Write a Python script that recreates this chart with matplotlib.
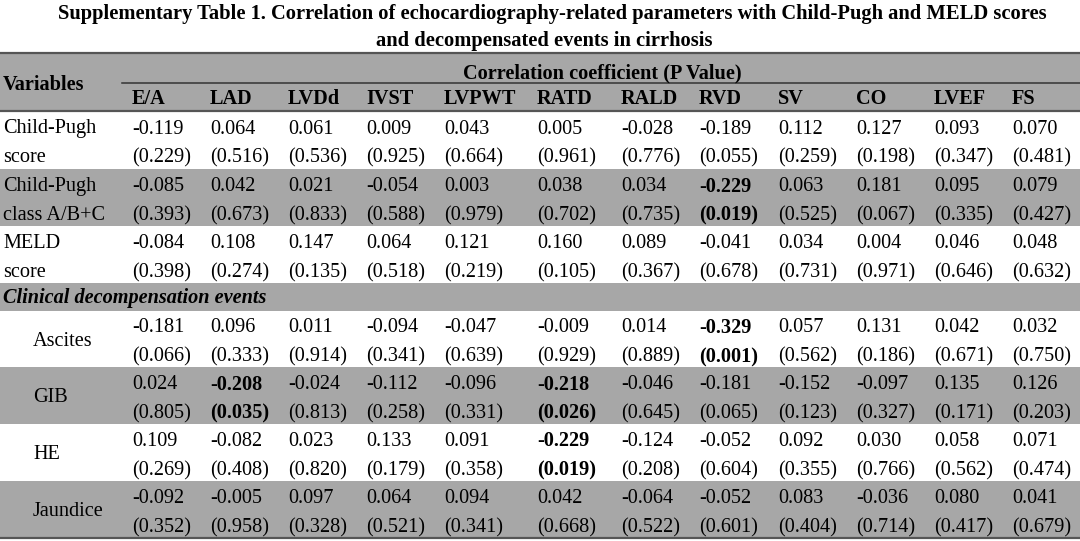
import matplotlib.pyplot as plt
from matplotlib.patches import Rectangle

plt.rcParams["font.family"] = ["Liberation Serif", "DejaVu Serif"]

title_lines = [
    "Supplementary Table 1. Correlation of echocardiography-related parameters with Child-Pugh and MELD scores",
    "and decompensated events in cirrhosis",
]
columns = ["E/A", "LAD", "LVDd", "IVST", "LVPWT", "RATD", "RALD", "RVD", "SV", "CO", "LVEF", "FS"]

row_labels = [
    ["Child-Pugh", "score"],
    ["Child-Pugh", "class A/B+C"],
    ["MELD", "score"],
    ["Ascites"],
    ["GIB"],
    ["HE"],
    ["Jaundice"],
]
r_values = [
    [-0.119, 0.064, 0.061, 0.009, 0.043, 0.005, -0.028, -0.189, 0.112, 0.127, 0.093, 0.070],
    [-0.085, 0.042, 0.021, -0.054, 0.003, 0.038, 0.034, -0.229, 0.063, 0.181, 0.095, 0.079],
    [-0.084, 0.108, 0.147, 0.064, 0.121, 0.160, 0.089, -0.041, 0.034, 0.004, 0.046, 0.048],
    [-0.181, 0.096, 0.011, -0.094, -0.047, -0.009, 0.014, -0.329, 0.057, 0.131, 0.042, 0.032],
    [0.024, -0.208, -0.024, -0.112, -0.096, -0.218, -0.046, -0.181, -0.152, -0.097, 0.135, 0.126],
    [0.109, -0.082, 0.023, 0.133, 0.091, -0.229, -0.124, -0.052, 0.092, 0.030, 0.058, 0.071],
    [-0.092, -0.005, 0.097, 0.064, 0.094, 0.042, -0.064, -0.052, 0.083, -0.036, 0.080, 0.041],
]
p_values = [
    [0.229, 0.516, 0.536, 0.925, 0.664, 0.961, 0.776, 0.055, 0.259, 0.198, 0.347, 0.481],
    [0.393, 0.673, 0.833, 0.588, 0.979, 0.702, 0.735, 0.019, 0.525, 0.067, 0.335, 0.427],
    [0.398, 0.274, 0.135, 0.518, 0.219, 0.105, 0.367, 0.678, 0.731, 0.971, 0.646, 0.632],
    [0.066, 0.333, 0.914, 0.341, 0.639, 0.929, 0.889, 0.001, 0.562, 0.186, 0.671, 0.750],
    [0.805, 0.035, 0.813, 0.258, 0.331, 0.026, 0.645, 0.065, 0.123, 0.327, 0.171, 0.203],
    [0.269, 0.408, 0.820, 0.179, 0.358, 0.019, 0.208, 0.604, 0.355, 0.766, 0.562, 0.474],
    [0.352, 0.958, 0.328, 0.521, 0.341, 0.668, 0.522, 0.601, 0.404, 0.714, 0.417, 0.679],
]
section_label = "Clinical decompensation events"

# layout in pixel coordinates
col_x = [132, 210, 288, 366, 444, 537, 621, 699, 778, 856, 934, 1012]
row_edges = [111, 169, 226, 283, 311, 367, 424, 481, 538]
section_index = 3
gray = "#a7a7a7"
line_c = "#555555"
fs = 14.6
dy = 3.5  # nudge for text centring

fig = plt.figure(figsize=(10.8, 5.41), dpi=100)
ax = fig.add_axes([0, 0, 1, 1])
ax.set_xlim(0, 1080)
ax.set_ylim(541, 0)
ax.axis("off")

ax.text(552, 14, title_lines[0], ha="center", va="center", fontsize=14.8, fontweight="bold")
ax.text(544, 41, title_lines[1], ha="center", va="center", fontsize=14.8, fontweight="bold")

# header band
ax.add_patch(Rectangle((0, 53), 1080, row_edges[0] - 53, color=gray, lw=0))
ax.text(3, 85, "Variables", ha="left", va="center", fontsize=fs, fontweight="bold")
ax.text(602, 73, "Correlation coefficient (P Value)", ha="center", va="center",
        fontsize=fs, fontweight="bold")
for x, name in zip(col_x, columns):
    ax.text(x, 99, name, ha="left", va="center", fontsize=fs, fontweight="bold")

# body rows: band list in order (data rows with the section row inserted)
bands = list(range(len(row_labels)))
bands.insert(section_index, "section")
for k, item in enumerate(bands):
    top, bot = row_edges[k], row_edges[k + 1]
    if k % 2 == 1:
        ax.add_patch(Rectangle((0, top), 1080, bot - top, color=gray, lw=0))
    mid = (top + bot) / 2
    if item == "section":
        ax.text(3, mid + 1, section_label, ha="left", va="center", fontsize=fs,
                fontweight="bold", style="italic")
        continue
    i = item
    lab = row_labels[i]
    y1, y2 = mid - 14.5 + dy, mid + 14.5 + dy
    if len(lab) == 2:
        ax.text(3, y1, lab[0], ha="left", va="center", fontsize=fs)
        ax.text(3, y2, lab[1], ha="left", va="center", fontsize=fs)
    else:
        ax.text(33, mid + 2, lab[0], ha="left", va="center", fontsize=fs)
    for x, r, p in zip(col_x, r_values[i], p_values[i]):
        w = "bold" if p < 0.05 else "normal"
        ax.text(x, y1, f"{r:.3f}", ha="left", va="center", fontsize=fs, fontweight=w)
        ax.text(x, y2, f"({p:.3f})", ha="left", va="center", fontsize=fs, fontweight=w)

# rules
ax.plot([0, 1080], [53, 53], color=line_c, lw=1.6)
ax.plot([122, 1080], [83, 83], color="#333333", lw=1.1)
ax.plot([0, 1080], [row_edges[0], row_edges[0]], color=line_c, lw=1.6)
ax.plot([0, 1080], [row_edges[-1], row_edges[-1]], color=line_c, lw=1.6)

fig.savefig("out.png", dpi=100)
